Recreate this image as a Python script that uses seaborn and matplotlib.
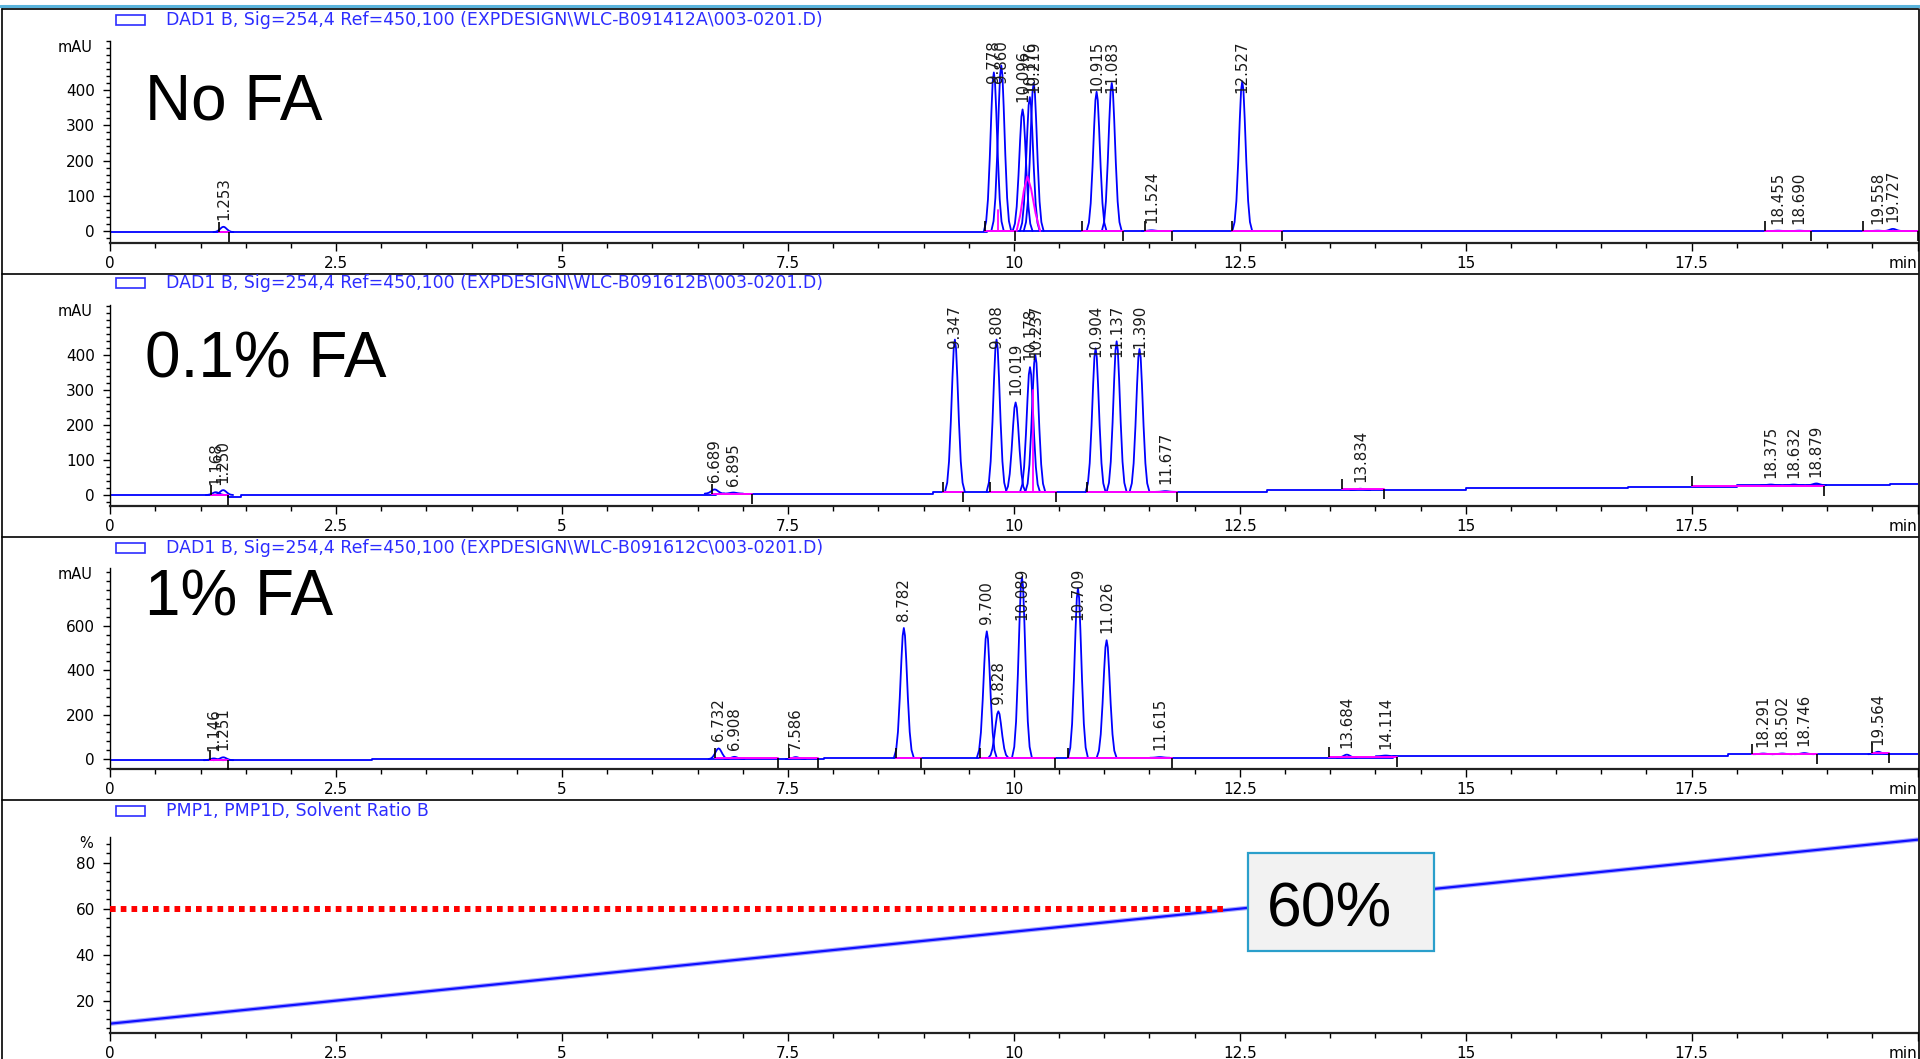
import numpy as np
import pandas as pd
import matplotlib
matplotlib.use("Agg")
import matplotlib.pyplot as plt
from matplotlib.patches import Rectangle
from matplotlib.lines import Line2D
from matplotlib.ticker import MultipleLocator
import seaborn as sns

# ------------------------------------------------------------------ data
TITLES = [
    "DAD1 B, Sig=254,4 Ref=450,100 (EXPDESIGN\\WLC-B091412A\\003-0201.D)",
    "DAD1 B, Sig=254,4 Ref=450,100 (EXPDESIGN\\WLC-B091612B\\003-0201.D)",
    "DAD1 B, Sig=254,4 Ref=450,100 (EXPDESIGN\\WLC-B091612C\\003-0201.D)",
    "PMP1, PMP1D, Solvent Ratio B",
]
CONDITIONS = ["No FA", "0.1% FA", "1% FA"]
UNITS = ["mAU", "mAU", "mAU", "%"]

# Run A (no formic acid): retention time, apex and local baseline (mAU)
RT_A = [1.253, 9.778, 9.860, 10.096, 10.176, 10.219, 10.915, 11.083, 11.524,
        12.527, 18.455, 18.690, 19.558, 19.727]
APEX_A = [12, 450, 470, 345, 380, 420, 395, 420, 2, 425, 1, 1, 1, 6]
BASE_A = [-3, 0, 0, 0, 0, 0, 0, 0, 0, 0, 0, 0, 0, 0]
BASELINE_T_A = [0, 9.7, 20]
BASELINE_V_A = [-3, 0, 0]
SEG_A = [(1.20, 1.31, -3), (9.68, 10.01, 0), (10.75, 11.21, 0), (11.45, 11.75, 0),
         (12.41, 12.97, 0), (18.31, 18.82, 0), (19.40, 20.0, 0)]
SKIM_T_A = [10.03, 10.07, 10.11, 10.15, 10.19, 10.24, 10.29]
SKIM_V_A = [0, 45, 115, 155, 120, 50, 0]
DROPS_A = [(9.822, 0, 60)]

# Run B (0.1 % formic acid)
RT_B = [1.168, 1.250, 6.689, 6.895, 9.347, 9.808, 10.019, 10.178, 10.237, 10.904,
        11.137, 11.390, 11.677, 13.834, 18.375, 18.632, 18.879]
APEX_B = [8, 14, 16, 7, 445, 445, 265, 366, 401, 420, 440, 418, 11, 18, 30, 30, 33]
BASE_B = [0, 0, 4, 4, 9, 9, 9, 9, 9, 9, 9, 9, 9, 14, 28, 28, 28]
BASELINE_T_B = [0, 1.3, 1.45, 6.7, 9.1, 12.8, 15.0, 16.8, 18.0, 19.7, 20]
BASELINE_V_B = [0, -6, 0, 4, 9, 14, 19, 24, 28, 32, 32]
SEG_B = [(1.12, 1.30, 0), (6.66, 7.10, 4), (9.22, 9.44, 8), (9.74, 10.47, 9),
         (10.81, 11.80, 9), (13.63, 14.10, 16), (17.50, 18.96, 27)]
SKIM_T_B = []
SKIM_V_B = []
DROPS_B = [(10.212, 9, 300)]

# Run C (1 % formic acid)
RT_C = [1.146, 1.251, 6.732, 6.908, 7.586, 8.782, 9.700, 9.828, 10.089, 10.709,
        11.026, 11.615, 13.684, 14.114, 18.291, 18.502, 18.746, 19.564]
APEX_C = [3, 8, 48, 10, 9, 590, 575, 215, 820, 770, 535, 9, 20, 16, 25, 25, 27, 33]
BASE_C = [-5, -5, 0, 0, 0, 6, 6, 6, 6, 6, 6, 6, 6, 13, 22, 22, 22, 22]
BASELINE_T_C = [0, 2.9, 7.9, 14.2, 17.9, 20]
BASELINE_V_C = [-5, 0, 6, 13, 22, 22]
SEG_C = [(1.10, 1.30, -5), (6.69, 7.39, 4), (7.51, 7.83, 4), (8.70, 8.97, 6),
         (9.62, 10.45, 6), (10.60, 11.75, 6), (13.49, 14.24, 9), (18.17, 18.89, 24),
         (19.50, 19.68, 26)]
SKIM_T_C = []
SKIM_V_C = []
DROPS_C = []

# Pump gradient (% B) and the 60 % mark
GRAD_T = [0, 20]
GRAD_B = [10, 90]
TARGET_B = 60
TARGET_END = 12.35
TARGET_TEXT = "60%"

# Shape of one peak: time offset from apex (min) and fraction of peak height
PEAK_DT = [-0.11, -0.085, -0.065, -0.045, -0.027, -0.013, 0.0,
           0.013, 0.027, 0.045, 0.065, 0.085, 0.11]
PEAK_FRAC = [0.0, 0.06, 0.20, 0.46, 0.75, 0.94, 1.0,
             0.94, 0.75, 0.46, 0.20, 0.06, 0.0]

XTICKS = [0, 2.5, 5, 7.5, 10, 12.5, 15, 17.5, 20]
XTICK_LABELS = ["0", "2.5", "5", "7.5", "10", "12.5", "15", "17.5", "min"]
YTICKS = [[0, 100, 200, 300, 400], [0, 100, 200, 300, 400], [0, 200, 400, 600], [20, 40, 60, 80]]
YMINOR = [20, 20, 40, 4]
YLIMS = [(-34, 540), (-31.5, 544), (-46, 860), (5.8, 91.3)]

# ------------------------------------------------------------------ layout
W, H, DPI = 1920, 1059, 100
X0_PX, X1_PX = 110.2, 1917.6
AX_PX = [(243.0, 40.7), (506.0, 305.0), (769.3, 568.0), (1033.3, 836.7)]  # (bottom, top)
TITLE_Y = [20.0, 282.7, 548.0, 810.7]
COND_BASELINE = [120.0, 378.0, 616.0]
FRAME_Y = [9.0, 274.0, 537.0, 800.0]

TRACE = "#0000ff"
MAGENTA = "#ff00ff"
TITLE_BLUE = "#2d2dff"

sns.set_style("white")
plt.rcParams.update({
    "font.family": ["DejaVu Sans"],
    "axes.edgecolor": "black",
    "axes.linewidth": 1.0,
    "xtick.color": "black",
    "ytick.color": "black",
    "xtick.direction": "out",
    "ytick.direction": "out",
})


def fx(px):
    return px / W


def fy(py):
    return 1.0 - py / H


def peak_frame(rts, apexes, bases):
    rows = []
    for k, (rt, ap, b) in enumerate(zip(rts, apexes, bases)):
        for dt, fr in zip(PEAK_DT, PEAK_FRAC):
            rows.append((k, rt + dt, b + (ap - b) * fr))
    return pd.DataFrame(rows, columns=["peak", "t", "v"])


def seg_frame(segs):
    rows = []
    for k, (a, b, lev) in enumerate(segs):
        rows.append((k, a, lev))
        rows.append((k, b, lev))
    return pd.DataFrame(rows, columns=["seg", "t", "v"])


fig = plt.figure(figsize=(W / DPI, H / DPI), dpi=DPI)
fig.patch.set_facecolor("white")

axes = []
for i, (bot, top) in enumerate(AX_PX):
    ax = fig.add_axes([fx(X0_PX), fy(bot), fx(X1_PX - X0_PX), (bot - top) / H])
    ax.patch.set_alpha(0)
    axes.append(ax)

runs = [
    (RT_A, APEX_A, BASE_A, BASELINE_T_A, BASELINE_V_A, SEG_A, SKIM_T_A, SKIM_V_A, DROPS_A),
    (RT_B, APEX_B, BASE_B, BASELINE_T_B, BASELINE_V_B, SEG_B, SKIM_T_B, SKIM_V_B, DROPS_B),
    (RT_C, APEX_C, BASE_C, BASELINE_T_C, BASELINE_V_C, SEG_C, SKIM_T_C, SKIM_V_C, DROPS_C),
]

rt_labels = []
for i, (rts, apx, bas, blt, blv, segs, skt, skv, drops) in enumerate(runs):
    ax = axes[i]
    # detector baseline
    sns.lineplot(x=blt, y=blv, ax=ax, color=TRACE, lw=1.3, estimator=None,
                 sort=False, drawstyle="steps-post", legend=False)
    # integration baselines
    sdf = seg_frame(segs)
    sns.lineplot(data=sdf, x="t", y="v", units="seg", estimator=None, sort=False,
                 ax=ax, color=MAGENTA, lw=1.4, legend=False, zorder=3)
    if skt:
        sns.lineplot(x=skt, y=skv, ax=ax, color=MAGENTA, lw=1.4, estimator=None,
                     sort=False, legend=False, zorder=3)
    for (t, y0, y1) in drops:
        ax.plot([t, t], [y0, y1], color=MAGENTA, lw=1.3, zorder=3)
    # peaks
    pdf = peak_frame(rts, apx, bas)
    sns.lineplot(data=pdf, x="t", y="v", units="peak", estimator=None, sort=False,
                 ax=ax, color=TRACE, lw=1.3, legend=False, zorder=2)
    # integration start / stop marks
    ax.plot([s[0] for s in segs], [s[2] for s in segs], linestyle="none", marker=2,
            markersize=7, markeredgewidth=1.2, color="black", zorder=4)
    ax.plot([s[1] for s in segs], [s[2] for s in segs], linestyle="none", marker=3,
            markersize=7, markeredgewidth=1.2, color="black", zorder=4)
    # retention-time labels
    for rt, ap in zip(rts, apx):
        a = ax.annotate(f"{rt:.3f}", xy=(rt, ap), xytext=(0, 5),
                        textcoords="offset points", rotation=90, ha="center",
                        va="bottom", fontsize=10.8, color="#1a1a1a",
                        annotation_clip=False, zorder=5)
        rt_labels.append((ax, a, rt))

# gradient panel
ax = axes[3]
sns.lineplot(x=GRAD_T, y=GRAD_B, ax=ax, color="#a8a8ff", lw=3.2, estimator=None,
             sort=False, legend=False)
sns.lineplot(x=GRAD_T, y=GRAD_B, ax=ax, color="#1010ff", lw=1.6, estimator=None,
             sort=False, legend=False)
sns.lineplot(x=[0, TARGET_END], y=[TARGET_B, TARGET_B], ax=ax, color="#ff0000",
             lw=4.3, linestyle=(0, (0.95, 0.85)), estimator=None, sort=False,
             legend=False, zorder=4)

for i, ax in enumerate(axes):
    ax.set_xlim(0, 20)
    ax.set_ylim(*YLIMS[i])
    ax.set_xticks(XTICKS)
    ax.set_xticklabels(XTICK_LABELS)
    ax.get_xticklabels()[-1].set_ha("right")
    ax.xaxis.set_minor_locator(MultipleLocator(0.5))
    ax.set_yticks(YTICKS[i])
    ax.yaxis.set_minor_locator(MultipleLocator(YMINOR[i]))
    ax.tick_params(bottom=True, left=True, which="both")
    ax.tick_params(axis="x", which="major", length=6, width=1.0, pad=3.5, labelsize=11)
    ax.tick_params(axis="x", which="minor", length=3.5, width=1.0)
    ax.tick_params(axis="y", which="major", length=5, width=1.0, pad=6, labelsize=11)
    ax.tick_params(axis="y", which="minor", length=2.8, width=1.0)
    ax.set_xlabel("")
    ax.set_ylabel("")
    sns.despine(ax=ax)
    ax.spines["bottom"].set_linewidth(1.6)
    ax.spines["bottom"].set_color("#222222")
    ax.annotate(UNITS[i], xy=(0, 1), xycoords="axes fraction", xytext=(-12.5, -5),
                textcoords="offset points", ha="right", va="center", fontsize=10.5,
                color="black")

# pin retention-time labels below the top of the plot area
fig.canvas.draw()
for ax, a, rt in rt_labels:
    bb = a.get_window_extent()
    if bb.y1 > ax.bbox.y1:
        a.xycoords = ("data", "axes fraction")
        a.xy = (rt, 1.0)
        a.xyann = (0, 0)
        a.set_va("top")

# signal titles with legend swatches
for i, title in enumerate(TITLES):
    fig.text(fx(166), fy(TITLE_Y[i]), title, color=TITLE_BLUE, fontsize=12.5,
             ha="left", va="center")
    fig.add_artist(Rectangle((fx(116), fy(TITLE_Y[i] + 5)), fx(29), 10 / H,
                             transform=fig.transFigure, fill=False,
                             edgecolor=TITLE_BLUE, lw=1.2))

# condition labels
for i, cond in enumerate(CONDITIONS):
    fig.text(fx(145), fy(COND_BASELINE[i]), cond, fontsize=46,
             family=["Liberation Sans", "DejaVu Sans"], color="black",
             ha="left", va="baseline", zorder=6)

# 60 % call-out box
fig.add_artist(Rectangle((fx(1248), fy(950.7)), fx(1434 - 1248), (950.7 - 852.7) / H,
                         transform=fig.transFigure, facecolor="#f2f2f2",
                         edgecolor="#2a9fcb", lw=1.6, zorder=10))
fig.text(fx(1267), fy(926.7), TARGET_TEXT, fontsize=45,
         family=["Liberation Sans", "DejaVu Sans"], color="black",
         ha="left", va="baseline", zorder=11)

# window frames
fig.add_artist(Line2D([0, 1], [fy(6), fy(6)], transform=fig.transFigure,
                      color="#5ab4dc", lw=2.2))
for y in FRAME_Y:
    fig.add_artist(Line2D([fx(2), fx(1918)], [fy(y), fy(y)], transform=fig.transFigure,
                          color="black", lw=1.2))
fig.add_artist(Line2D([fx(2), fx(2)], [fy(9), 0], transform=fig.transFigure,
                      color="black", lw=1.2))
fig.add_artist(Line2D([fx(1918.5), fx(1918.5)], [fy(9), 0], transform=fig.transFigure,
                      color="black", lw=1.2))

fig.savefig("out.png", dpi=DPI, facecolor="white")
